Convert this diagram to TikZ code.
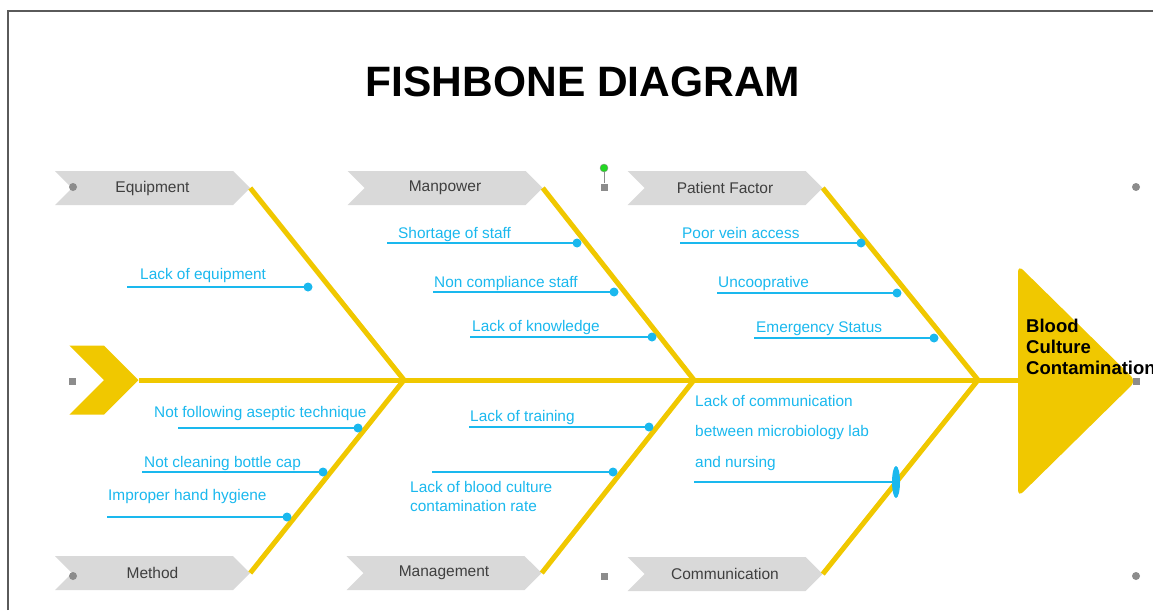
\documentclass[tikz,border=0pt]{standalone}
\usepackage{fontspec}
\setmainfont{Liberation Sans}
\usetikzlibrary{shapes.symbols, shapes.geometric, positioning}
\definecolor{fyellow}{HTML}{F0C800}
\definecolor{fblue}{HTML}{1AB8EE}
\definecolor{fribbon}{HTML}{D9D9D9}
\definecolor{flabel}{HTML}{3F3F3F}
\definecolor{fhandle}{HTML}{8C8C8C}
\definecolor{fgreen}{HTML}{22D822}
\definecolor{fframe}{HTML}{5A5A5A}
\tikzset{
  ribbon/.style={signal, signal from=west, signal to=east, fill=fribbon,
                 minimum width=195pt, minimum height=34pt, inner sep=0pt,
                 text=flabel, font=\fontsize{15.5}{18}\selectfont},
  fishtail/.style={signal, signal from=west, signal to=east, fill=fyellow,
                   minimum width=64pt, minimum height=69pt, inner sep=0pt},
  bone/.style={draw=fyellow, line width=5pt},
  causeline/.style={draw=fblue, line width=1.6pt},
  cause/.style={text=fblue, font=\fontsize{15.4}{18}\selectfont,
                anchor=base west, inner sep=0pt, align=left},
  dot/.style={circle, fill=fblue, inner sep=0pt, minimum size=9pt},
  hsquare/.style={fill=fhandle, inner sep=0pt, minimum size=7pt},
  hcircle/.style={circle, fill=fhandle, inner sep=0pt, minimum size=8pt},
}

\begin{document}
\begin{tikzpicture}[x=1pt, y=-1pt,
    heading/.style={font=\bfseries\fontsize{42.5}{50}\selectfont, inner sep=0pt}]
  \useasboundingbox (0,0) rectangle (1153,610);
  % frame
  \draw[fframe, line width=1.2pt] (8,610) -- (8,11) -- (1153,11);
  \node[heading, anchor=base] (title) at (583,96) {FISHBONE DIAGRAM};

  % category ribbons
  \node[ribbon] (equip) at (152.5,188) {Equipment};
  \node[ribbon] (manpow) at (445,188) {Manpower};
  \node[ribbon] (patient) at (725,188) {Patient Factor};
  \node[ribbon] (method) at (152.5,573) {Method};
  \node[ribbon] (manage) at (444,573) {Management};
  \node[ribbon] (comm) at (725,574) {Communication};

  % spine, tail and head
  \coordinate (j1) at (404,380);
  \coordinate (j2) at (694,380);
  \coordinate (j3) at (978,380);
  \coordinate (head) at (1018,380);
  \node[fishtail] (tail) at (104,380) {};
  \draw[bone] (tail.east) -- (head);
  \fill[fyellow, rounded corners=7pt] (1018,265) -- (1136,381) -- (1018,497) -- cycle;
  % multi-line nodes sit on the baseline of their last line
  \node[font=\bfseries\fontsize{18.5}{21}\selectfont, anchor=base west,
        align=left, inner sep=0pt] (effect) at (1026,374)
    {Blood\\Culture\\Contamination};

  % bones
  \draw[bone] (equip.east) -- (j1) -- (method.east);
  \draw[bone] (manpow.east) -- (j2) -- (manage.east);
  \draw[bone] (patient.east) -- (j3) -- (comm.east);

  % equipment
  \draw[causeline] (127,287) coordinate (s1) -- (308,287) node[dot] (d1) {};
  \node[cause] (c1) at (140,279) {Lack of equipment};
  % manpower
  \draw[causeline] (387,243) coordinate (s2) -- (577,243) node[dot] (d2) {};
  \node[cause] (c2) at (398,238) {Shortage of staff};
  \draw[causeline] (433,292) coordinate (s3) -- (614,292) node[dot] (d3) {};
  \node[cause] (c3) at (434,287) {Non compliance staff};
  \draw[causeline] (470,337) coordinate (s4) -- (652,337) node[dot] (d4) {};
  \node[cause] (c4) at (472,331) {Lack of knowledge};
  % patient factor
  \draw[causeline] (680,243) coordinate (s5) -- (861,243) node[dot] (d5) {};
  \node[cause] (c5) at (682,238) {Poor vein access};
  \draw[causeline] (717,293) coordinate (s6) -- (897,293) node[dot] (d6) {};
  \node[cause] (c6) at (718,287) {Uncooprative};
  \draw[causeline] (754,338) coordinate (s7) -- (934,338) node[dot] (d7) {};
  \node[cause] (c7) at (756,332) {Emergency Status};
  % method
  \draw[causeline] (178,428) coordinate (s8) -- (358,428) node[dot] (d8) {};
  \node[cause] (c8) at (154,417) {Not following aseptic technique};
  \draw[causeline] (142,472) coordinate (s9) -- (323,472) node[dot] (d9) {};
  \node[cause] (c9) at (144,467) {Not cleaning bottle cap};
  \draw[causeline] (107,517) coordinate (s10) -- (287,517) node[dot] (d10) {};
  \node[cause] (c10) at (108,500) {Improper hand hygiene};
  % management
  \draw[causeline] (469,427) coordinate (s11) -- (649,427) node[dot] (d11) {};
  \node[cause] (c11) at (470,421) {Lack of training};
  \draw[causeline] (432,472) coordinate (s12) -- (613,472) node[dot] (d12) {};
  \node[cause, font=\fontsize{15.4}{19}\selectfont] (c12) at (410,511)
    {Lack of blood culture\\contamination rate};
  % communication
  \draw[causeline] (694,482) coordinate (s13) -- (896,482)
    node[dot, ellipse, minimum width=8pt, minimum height=32pt] (d13) {};
  \node[cause, font=\fontsize{15.4}{30.5}\selectfont] (c13) at (695,467)
    {Lack of communication\\between microbiology lab\\and nursing};

  % selection handles
  \node[hcircle] (h1) at (73,187) {};
  \node[hsquare] (h2) at (604,187) {};
  \node[hcircle] (h3) at (1136,187) {};
  \node[hsquare] (h4) at (72,381) {};
  \node[hsquare] (h5) at (1136,381) {};
  \node[hcircle] (h6) at (73,576) {};
  \node[hsquare] (h7) at (604,576) {};
  \node[hcircle] (h8) at (1136,576) {};
  \node[circle, fill=fgreen, draw=fhandle, inner sep=0pt, minimum size=8pt] (rot) at (604,168) {};
  \draw[fhandle, line width=1pt] (rot) -- (h2);
\end{tikzpicture}
\end{document}
